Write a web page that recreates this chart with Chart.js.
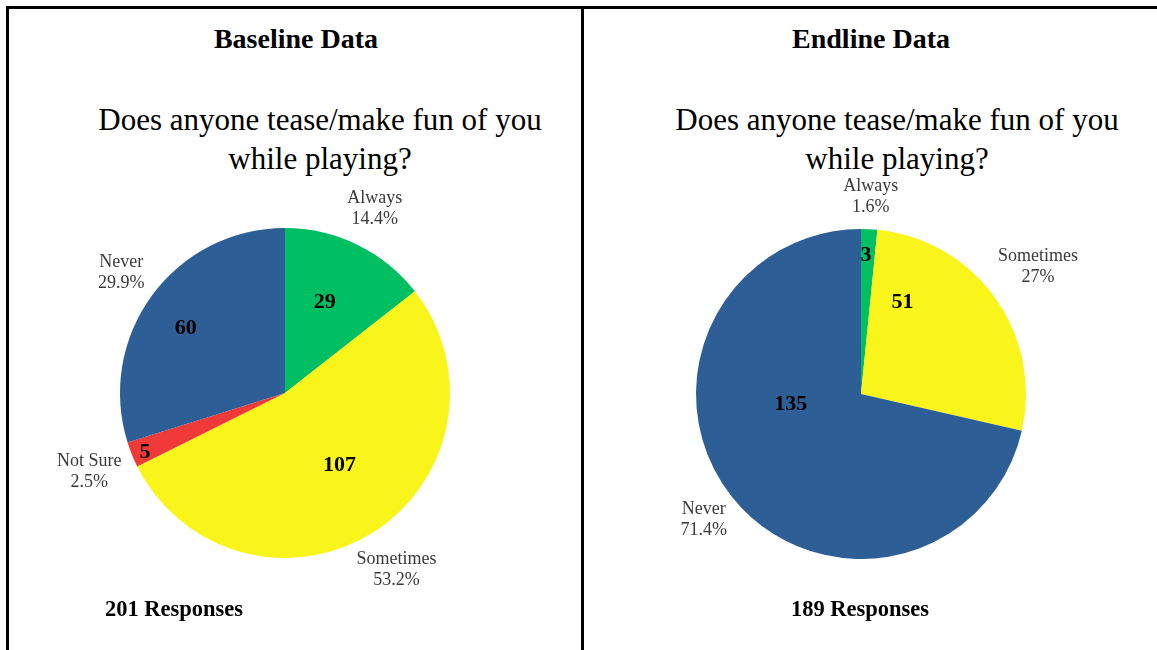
<!DOCTYPE html>
<html>
<head>
    <title>Tease / make fun while playing</title>
    <script src="https://cdn.jsdelivr.net/npm/chart.js"></script>
    <style>
        body { margin: 0; background: #fff; width: 1157px; height: 650px; overflow: hidden; position: relative;
               font-family: "Liberation Serif", "Times New Roman", serif; color: #000; }
        .frame { position: absolute; left: 6px; top: 6px; width: 1200px; height: 700px;
                 border-left: 3px solid #000; border-top: 3px solid #000; }
        .divider { position: absolute; left: 581px; top: 6px; width: 3px; height: 700px; background: #000; }
        .txt { position: absolute; text-align: center; white-space: nowrap; }
        .head { font-weight: bold; font-size: 28px; line-height: 28px; width: 400px; top: 25px; }
        .qtitle { font-size: 31px; line-height: 39px; width: 540px; top: 100px; }
        .resp { font-weight: bold; font-size: 22.5px; line-height: 22px; width: 300px; top: 598px; }
        .box { position: absolute; top: 160px; width: 570px; height: 460px; }
    </style>
</head>
<body>
    <div class="frame"></div>
    <div class="divider"></div>

    <div class="txt head" style="left:96px">Baseline Data</div>
    <div class="txt head" style="left:671px">Endline Data</div>

    <div class="txt qtitle" style="left:50px">Does anyone tease/make fun of you<br>while playing?</div>
    <div class="txt qtitle" style="left:627px">Does anyone tease/make fun of you<br>while playing?</div>

    <div class="box" style="left:8px"><canvas id="baseChart"></canvas></div>
    <div class="box" style="left:584px"><canvas id="endChart"></canvas></div>

    <div class="txt resp" style="left:24px">201 Responses</div>
    <div class="txt resp" style="left:710px">189 Responses</div>

    <script type="text/javascript">
        // baseline survey
        var baseLabels = ['Always', 'Sometimes', 'Not Sure', 'Never'];
        var baseValues = [29, 107, 5, 60];
        var baseColors = ['rgb(0,191,99)', 'rgb(249,245,26)', 'rgb(240,58,58)', 'rgb(46,94,150)'];

        // endline survey
        var endLabels = ['Always', 'Sometimes', 'Never'];
        var endValues = [3, 51, 135];
        var endColors = ['rgb(0,191,99)', 'rgb(249,245,26)', 'rgb(46,94,150)'];

        function pct(v, total) {
            var s = (v / total * 100).toFixed(1);
            if (s.slice(-2) === '.0') s = s.slice(0, -2);
            return s + '%';
        }

        // excel style labels: category + percent outside, count inside
        var sliceLabels = {
            id: 'sliceLabels',
            afterDatasetsDraw: function(chart, args, opts) {
                var ctx = chart.ctx;
                var ds = chart.data.datasets[0];
                var total = ds.data.reduce(function(a, b) { return a + b; }, 0);
                var meta = chart.getDatasetMeta(0);
                ctx.save();
                ctx.textAlign = 'center';
                ctx.textBaseline = 'middle';
                meta.data.forEach(function(arc, i) {
                    var p = arc.getProps(['x', 'y', 'startAngle', 'endAngle', 'outerRadius'], true);
                    var mid = (p.startAngle + p.endAngle) / 2;
                    var d = p.outerRadius + opts.outside[i];
                    var ox = p.x + Math.cos(mid) * d;
                    var oy = p.y + Math.sin(mid) * d;
                    ctx.fillStyle = '#3a3a3a';
                    ctx.font = '18px "Liberation Serif", serif';
                    ctx.fillText(chart.data.labels[i], ox, oy - 10.5);
                    ctx.fillText(pct(ds.data[i], total), ox, oy + 10.5);

                    var spot = opts.inside[i];
                    var a = mid + spot[0] * Math.PI / 180;
                    var r = p.outerRadius * spot[1];
                    ctx.fillStyle = '#000';
                    ctx.font = 'bold 22px "Liberation Serif", serif';
                    ctx.fillText(String(ds.data[i]), p.x + Math.cos(a) * r, p.y + Math.sin(a) * r);
                });
                ctx.restore();
            }
        };

        function initPie(id, labels, values, colors, pad, outside, inside) {
            return new Chart(document.getElementById(id).getContext('2d'), {
                type: 'pie',
                data: {
                    labels: labels,
                    datasets: [{
                        data: values,
                        backgroundColor: colors,
                        borderWidth: 0
                    }]
                },
                options: {
                    responsive: true,
                    maintainAspectRatio: false,
                    animation: false,
                    layout: { padding: pad },
                    plugins: {
                        legend: { display: false },
                        tooltip: { enabled: false },
                        sliceLabels: { outside: outside, inside: inside }
                    }
                },
                plugins: [sliceLabels]
            });
        }

        initPie('baseChart', baseLabels, baseValues, baseColors,
            { left: 112, right: 128, top: 68, bottom: 62 },
            [40, 44, 46, 38],
            [[-2.3, 0.6], [-4.6, 0.55], [-0.9, 0.92], [-3, 0.72]]);
        initPie('endChart', endLabels, endValues, endColors,
            { left: 112, right: 128, top: 69, bottom: 61 },
            [32, 53, 36],
            [[-0.8, 0.84], [-30, 0.61], [30, 0.43]]);
    </script>
</body>
</html>
